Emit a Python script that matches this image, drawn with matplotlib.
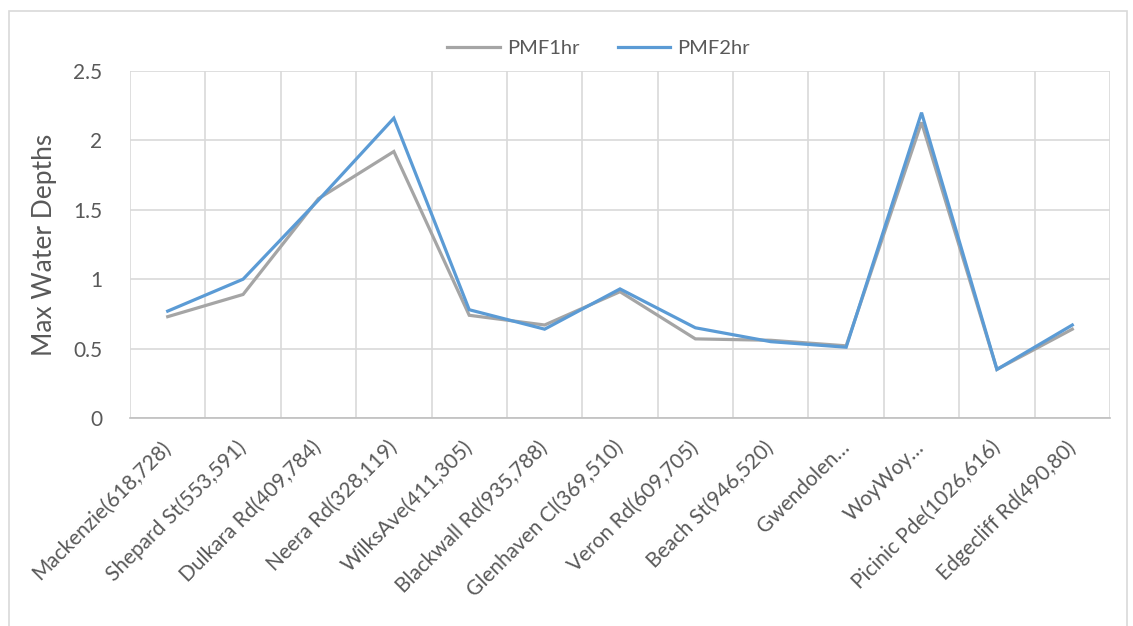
import numpy as np
from matplotlib import pyplot as plt
from matplotlib.patches import Rectangle

categories = ["Mackenzie(618,728)", "Shepard St(553,591)", "Dulkara Rd(409,784)",
              "Neera Rd(328,119)", "WilksAve(411,305)", "Blackwall Rd(935,788)",
              "Glenhaven Cl(369,510)", "Veron Rd(609,705)", "Beach St(946,520)",
              "Gwendolen\u2026", "WoyWoy\u2026", "Picinic Pde(1026,616)", "Edgecliff Rd(490,80)"]
pmf1hr = [0.73, 0.89, 1.58, 1.92, 0.74, 0.67, 0.91, 0.57, 0.56, 0.52, 2.13, 0.35, 0.64]
pmf2hr = [0.77, 1.00, 1.57, 2.16, 0.78, 0.64, 0.93, 0.65, 0.55, 0.51, 2.20, 0.35, 0.67]
yticks = [0, 0.5, 1, 1.5, 2, 2.5]

plt.rcParams['font.family'] = ['Lato', 'DejaVu Sans']
txt = "#595959"
grid = "#D9D9D9"

fig = plt.figure(figsize=(11.33, 6.26), dpi=100)
fig.patches.append(Rectangle((9 / 1133, -0.05), 1118 / 1133, 1 - 11 / 626 + 0.05,
                             transform=fig.transFigure, fill=False, ec=grid, lw=1.2))
ax = fig.add_axes([130 / 1133, 1 - 418 / 626, 980 / 1133, 347 / 626])

x = np.arange(len(categories))
ax.plot(x, pmf1hr, c="#A5A5A5", lw=2.3, label="PMF1hr", solid_joinstyle="miter")
ax.plot(x, pmf2hr, c="#5B9BD5", lw=2.3, label="PMF2hr", solid_joinstyle="miter")

ax.set_xlim(-0.5, len(categories) - 0.5)
ax.set_ylim(0, 2.5)
ax.set_yticks(yticks)
ax.set_yticklabels([f"{v:g}" for v in yticks])
ax.set_xticks(x)
ax.set_xticklabels(categories, rotation=45, ha="right", va="center", rotation_mode="anchor")
ax.set_xticks(np.arange(-0.5, len(categories)), minor=True)
ax.tick_params(axis="both", which="both", length=0, colors=txt, labelsize=15)
ax.tick_params(axis="x", pad=19)
ax.tick_params(axis="y", pad=20)
ax.grid(True, axis="y", which="major", color=grid, lw=1.2)
ax.grid(True, axis="x", which="minor", color=grid, lw=1.2)
ax.set_axisbelow(True)
for s in ["top", "right", "left"]:
    ax.spines[s].set_visible(False)
ax.spines["bottom"].set_color("#BFBFBF")
ax.spines["bottom"].set_linewidth(1.2)

ax.set_ylabel("Max Water Depths", fontsize=19, color=txt)
ax.yaxis.set_label_coords(-0.074, 0.5)
ax.legend(loc="center", bbox_to_anchor=(0.478, 1.066), ncol=2, frameon=False,
          fontsize=14.5, labelcolor=txt, handlelength=2.6, columnspacing=1.9, handletextpad=0.35)

plt.savefig("out.png", dpi=100)
